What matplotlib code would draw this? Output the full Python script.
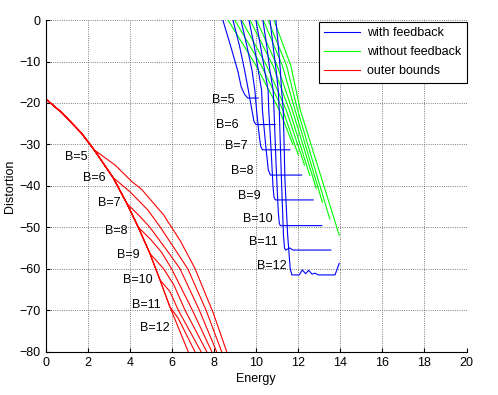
import matplotlib
matplotlib.use('Agg')
import matplotlib.pyplot as plt

plt.rcParams['font.family'] = ['Liberation Sans', 'DejaVu Sans']

B_values = [5, 6, 7, 8, 9, 10, 11, 12]

# outer bounds: shared envelope, each B leaves it at its own point
red_env_x = [0.0, 0.8, 1.7, 2.3, 3.2, 3.85, 4.4, 4.95, 5.43, 5.9, 6.77]
red_env_y = [-19.0, -22.5, -27.3, -31.3, -38.0, -44.2, -50.0, -56.3, -62.7, -69.2, -80.0]
red_branch = [3, 4, 5, 6, 7, 8, 9, 9]
red_tail_x = [
    [3.3, 4.1, 4.55, 5.6, 6.4, 7.1, 7.5, 7.95, 8.6],
    [4.0, 4.85, 5.45, 6.1, 6.75, 7.62, 8.36],
    [4.5, 4.95, 5.75, 6.38, 7.3, 8.12],
    [5.0, 5.5, 5.98, 6.97, 7.89],
    [5.6, 6.1, 6.62, 7.65],
    [5.9, 6.3, 7.38],
    [6.3, 7.09],
    [6.77],
]
red_tail_y = [
    [-35.0, -39.0, -40.8, -47.0, -53.3, -60.0, -65.0, -70.5, -80.0],
    [-41.4, -45.8, -50.0, -55.0, -60.0, -70.0, -80.0],
    [-47.5, -50.0, -55.5, -60.0, -70.0, -80.0],
    [-53.0, -56.0, -60.0, -70.0, -80.0],
    [-60.0, -64.0, -70.0, -80.0],
    [-65.5, -70.0, -80.0],
    [-72.0, -80.0],
    [-80.0],
]

# with feedback
blue_x = [
    [8.42, 8.82, 9.14, 9.29, 9.45, 9.6, 10.1],
    [8.9, 9.2, 9.45, 9.63, 9.8, 9.9, 10.0, 10.9],
    [9.28, 9.55, 9.8, 9.94, 10.02, 10.15, 10.22, 10.3, 11.6],
    [9.66, 9.9, 10.1, 10.26, 10.3, 10.45, 10.58, 10.68, 12.16],
    [9.99, 10.2, 10.4, 10.57, 10.6, 10.72, 10.8, 10.85, 10.92, 12.71],
    [10.32, 10.5, 10.65, 10.81, 10.85, 10.95, 11.05, 11.1, 11.15, 13.12],
    [10.66, 10.8, 10.95, 11.05, 11.1, 11.2, 11.3, 11.35, 11.4, 11.6, 11.75, 13.55],
    [10.94, 11.05, 11.15, 11.21, 11.29, 11.37, 11.5, 11.62, 11.7, 12.05, 12.2,
     12.35, 12.5, 12.65, 12.8, 12.95, 13.75, 13.95],
]
blue_y = [
    [0, -6.8, -12.5, -16.1, -17.9, -18.8, -18.8],
    [0, -6.0, -12.0, -16.9, -21.7, -24.5, -25.2, -25.2],
    [0, -6.0, -12.0, -16.9, -21.7, -28.0, -30.5, -31.3, -31.3],
    [0, -6.0, -12.0, -16.9, -21.7, -30.0, -36.2, -37.4, -37.4],
    [0, -6.0, -12.0, -16.9, -21.7, -32.0, -40.0, -42.8, -43.4, -43.4],
    [0, -6.0, -12.0, -16.9, -21.7, -35.0, -46.0, -49.0, -49.6, -49.6],
    [0, -6.0, -12.0, -16.9, -21.7, -38.0, -52.0, -55.0, -55.5, -55.0, -55.5, -55.5],
    [0, -6.0, -12.0, -16.9, -21.7, -38.6, -52.0, -60.0, -61.5, -61.5, -60.3,
     -61.2, -60.4, -61.3, -61.1, -61.5, -61.5, -58.7],
]

# without feedback
green_x = [
    [8.67, 10.0, 11.1, 11.75],
    [8.99, 10.25, 11.27, 12.0],
    [9.31, 10.5, 11.43, 12.3],
    [9.71, 10.8, 11.58, 12.55],
    [10.02, 11.0, 11.72, 12.85],
    [10.34, 11.25, 11.85, 13.15],
    [10.57, 11.45, 11.97, 13.5],
    [10.85, 11.65, 12.1, 13.95],
]
green_y = [
    [0, -11, -21.7, -30.0],
    [0, -11, -21.7, -32.5],
    [0, -11, -21.7, -35.0],
    [0, -11, -21.7, -37.5],
    [0, -11, -21.7, -40.5],
    [0, -11, -21.7, -44.0],
    [0, -11, -21.7, -48.0],
    [0, -11, -21.7, -51.9],
]

red_label_pos = [(0.92, -33.0), (1.76, -38.1), (2.5, -44.2), (2.82, -51.0),
                 (3.4, -56.7), (3.69, -62.7), (4.08, -68.8), (4.48, -74.4)]
blue_label_pos = [(7.89, -19.3), (8.09, -25.2), (8.52, -30.4), (8.79, -36.4),
                  (9.12, -42.5), (9.39, -48.1), (9.66, -53.5), (10.05, -59.4)]

fig = plt.figure(figsize=(4.98, 3.95), dpi=100)
ax = fig.add_axes([0.0918, 0.110, 0.845, 0.839])

lw = 0.8
for i, b in enumerate(B_values):
    k = red_branch[i]
    xs = red_env_x[:k + 1] + red_tail_x[i]
    ys = red_env_y[:k + 1] + red_tail_y[i]
    ax.plot(xs, ys, color='#ff0000', lw=lw, label='outer bounds' if i == 0 else None)

for i in range(len(B_values)):
    ax.plot(green_x[i], green_y[i], color='#00ff00', lw=lw,
            label='without feedback' if i == 0 else None)

for i in range(len(B_values)):
    ax.plot(blue_x[i], blue_y[i], color='#0000ff', lw=lw,
            label='with feedback' if i == 0 else None)

for i, b in enumerate(B_values):
    ax.text(red_label_pos[i][0], red_label_pos[i][1], 'B=%d' % b,
            fontsize=9, ha='left', va='center')
    ax.text(blue_label_pos[i][0], blue_label_pos[i][1], 'B=%d' % b,
            fontsize=9, ha='left', va='center')

ax.set_xlim(0, 20)
ax.set_ylim(-80, 0)
ax.set_xticks(range(0, 21, 2))
ax.set_yticks(range(-80, 1, 10))
ax.tick_params(direction='in', length=3, labelsize=9, width=0.8, pad=4)
ax.grid(True, linestyle=':', color='#555555', linewidth=0.6)
ax.spines['top'].set_visible(False)
ax.spines['right'].set_visible(False)
ax.set_xlabel('Energy', fontsize=9, labelpad=3)
ax.set_ylabel('Distortion', fontsize=9, labelpad=2)

handles, labels = ax.get_legend_handles_labels()
order = [labels.index('with feedback'), labels.index('without feedback'),
         labels.index('outer bounds')]
leg = ax.legend([handles[j] for j in order], [labels[j] for j in order],
                loc='upper right', fontsize=9, fancybox=False, framealpha=1,
                edgecolor='black', borderaxespad=0.0, handlelength=2.9,
                handletextpad=0.5, labelspacing=0.55, borderpad=0.45,
                bbox_to_anchor=(1.0, 0.995))
leg.get_frame().set_linewidth(0.8)

fig.savefig('out.png', dpi=100)
